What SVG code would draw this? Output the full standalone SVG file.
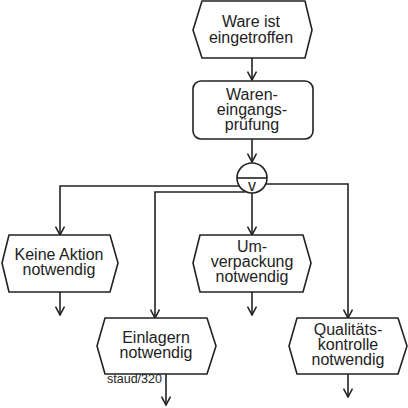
<svg xmlns="http://www.w3.org/2000/svg" width="408" height="408" viewBox="0 0 408 408">
<style>
.s{fill:#fff;stroke:#222;stroke-width:1.6;stroke-linejoin:round}
.t{font-family:"Liberation Sans",Arial,sans-serif;font-size:16px;fill:#222;text-anchor:middle}
.c{fill:none;stroke:#222;stroke-width:1.6}
</style>
<defs>
<marker id="a" viewBox="0 0 10 10" refX="9.5" refY="5" markerWidth="10" markerHeight="10" markerUnits="userSpaceOnUse" orient="auto">
<path d="M1,0.5 L9.5,5 L1,9.5" fill="none" stroke="#222" stroke-width="1.6"/>
</marker>
</defs>
<rect width="408" height="408" fill="#fff"/>
<g id="connectors">
<path class="c" d="M252,58 V80" marker-end="url(#a)"/>
<path class="c" d="M252,139 V162" marker-end="url(#a)"/>
<path class="c" d="M239,186 H60 V235" marker-end="url(#a)"/>
<path class="c" d="M245,192 H155 V318" marker-end="url(#a)"/>
<path class="c" d="M266,184 H348 V318" marker-end="url(#a)"/>
<path class="c" d="M252,193 V235" marker-end="url(#a)"/>
<path class="c" d="M60,292 V315" marker-end="url(#a)"/>
<path class="c" d="M252,292 V315" marker-end="url(#a)"/>
<path class="c" d="M166,374 V405" marker-end="url(#a)"/>
<path class="c" d="M348,374 V397" marker-end="url(#a)"/>
</g>
<g id="ev-start">
<polygon class="s" points="193,30 202,1 305,1 312,30 305,58 202,58"/>
<text class="t" x="251" y="27">Ware ist</text>
<text class="t" x="251" y="43">eingetroffen</text>
</g>
<g id="fn-pruefung">
<rect class="s" x="193" y="81" width="120" height="58" rx="8"/>
<text class="t" x="252" y="100">Waren-</text>
<text class="t" x="252" y="115">eingangs-</text>
<text class="t" x="252" y="130">prüfung</text>
</g>
<g id="or-connector">
<circle class="s" cx="252" cy="178" r="15"/>
<line class="c" x1="237" y1="178" x2="267" y2="178"/>
<text x="252" y="191" font-family="Liberation Sans,Arial,sans-serif" font-size="16" fill="#222" text-anchor="middle">v</text>
</g>
<g id="ev-keine">
<polygon class="s" points="2,263 9,235 110,235 118,263 110,292 9,292"/>
<text class="t" x="59" y="260">Keine Aktion</text>
<text class="t" x="59" y="275">notwendig</text>
</g>
<g id="ev-umverpackung">
<polygon class="s" points="193,263 200,235 303,235 311,263 303,292 200,292"/>
<text class="t" x="252" y="252">Um-</text>
<text class="t" x="252" y="267">verpackung</text>
<text class="t" x="252" y="282">notwendig</text>
</g>
<g id="ev-einlagern">
<polygon class="s" points="97,346 105,318 207,318 216,346 207,374 105,374"/>
<text class="t" x="156" y="343">Einlagern</text>
<text class="t" x="156" y="358">notwendig</text>
</g>
<g id="ev-qualitaet">
<polygon class="s" points="289,346 297,318 398,318 407,346 398,374 297,374"/>
<text class="t" x="348" y="335">Qualitäts-</text>
<text class="t" x="348" y="350">kontrolle</text>
<text class="t" x="348" y="365">notwendig</text>
</g>
<text x="107" y="383" font-family="Liberation Sans,Arial,sans-serif" font-size="12.5" fill="#222">staud/320</text>
</svg>
